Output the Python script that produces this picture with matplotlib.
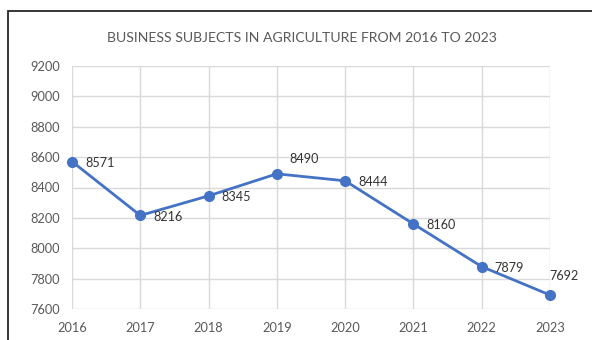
import matplotlib
matplotlib.use("Agg")
import matplotlib.pyplot as plt
from matplotlib.patches import Rectangle

years = [2016, 2017, 2018, 2019, 2020, 2021, 2022, 2023]
values = [8571, 8216, 8345, 8490, 8444, 8160, 7879, 7692]
y_ticks = [7600, 7800, 8000, 8200, 8400, 8600, 8800, 9000, 9200]
title = "BUSINESS SUBJECTS IN AGRICULTURE FROM 2016 TO 2023"

plt.rcParams['font.family'] = ['Lato', 'DejaVu Sans']
txt = '#595959'
fig = plt.figure(figsize=(5.92, 3.40), dpi=100)
fig.patch.set_facecolor('white')
fig.patches.append(Rectangle((8/592, -0.2), 1.2, 1 - 10.5/340 + 0.2, transform=fig.transFigure,
                             fill=False, edgecolor='#262626', linewidth=1.3))
L, R, T, B = 72, 550, 66, 309
ax = fig.add_axes([L/592, 1 - B/340, (R - L)/592, (B - T)/340])
ax.set_xlim(years[0], years[-1])
ax.set_ylim(y_ticks[0], y_ticks[-1])
ax.set_xticks(years)
ax.set_yticks(y_ticks)
ax.grid(True, color='#d9d9d9', linewidth=1)
ax.set_axisbelow(True)
for s in ax.spines.values():
    s.set_visible(False)
ax.tick_params(length=0, labelsize=9.2, colors=txt)
ax.tick_params(axis='y', pad=8.5)
ax.tick_params(axis='x', pad=9.5)
ax.plot(years, values, color='#4472C4', linewidth=2, marker='o', markersize=7, clip_on=False, zorder=3)

offsets = [(9.3, -0.8), (9.3, -0.8), (9.3, -0.8), (9.3, 11), (9.3, -0.8), (9.3, -0.8), (8.8, -0.8), (-0.7, 13.7)]
for x, v, (dx, dy) in zip(years, values, offsets):
    ax.annotate(str(v), (x, v), xytext=(dx, dy), textcoords='offset points',
                ha='left', va='center', fontsize=9.1, color='#333333', annotation_clip=False)

fig.text(301.5/592, 1 - 38/340, title, ha='center', va='center', fontsize=10.1, color=txt)
fig.savefig('out.png', dpi=100)
